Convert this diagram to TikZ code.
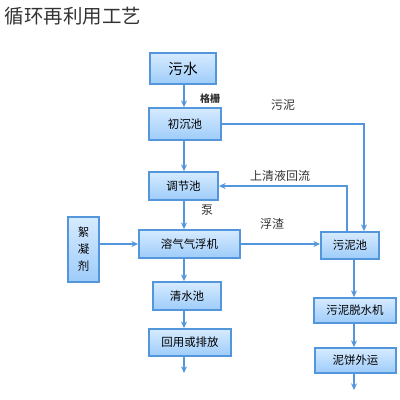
\documentclass[tikz,border=0pt]{standalone}
\usepackage{fontspec}
\setmainfont{Noto Sans CJK SC}
\usetikzlibrary{arrows.meta}
\definecolor{boxline}{RGB}{84,150,220}
\definecolor{boxtop}{RGB}{214,235,255}
\definecolor{boxbot}{RGB}{158,204,250}
\begin{document}
\begin{tikzpicture}[x=0.75pt,y=-0.75pt,
  box/.style={draw=boxline,line width=1.4pt,top color=boxtop,bottom color=boxbot,
    inner sep=0pt,font=\fontsize{8.6}{12.8}\selectfont,align=center},
  arr/.style={draw=boxline,line width=1.1pt,-{Stealth[length=5pt,width=4.5pt]}},
  lab/.style={font=\fontsize{9}{11}\selectfont,text=black!80}]
\useasboundingbox (0,0) rectangle (400,400);
% 标题
\node[anchor=west,font=\fontsize{14.6}{16}\selectfont,text=black!80] (title) at (0,16) {循环再利用工艺};
% 主流程
\node[box,minimum width=49.5pt,minimum height=23.25pt,font=\fontsize{11}{13}\selectfont] (water) at (183,68.5) {污水};
\node[box,minimum width=54pt,minimum height=24pt] (prim) at (185,124) {初沉池};
\node[box,minimum width=51.75pt,minimum height=21pt] (adjust) at (183.5,186) {调节池};
\node[box,minimum width=75.75pt,minimum height=21pt] (daf) at (189.5,244) {溶气气浮机};
\node[box,minimum width=23.25pt,minimum height=48.75pt] (floc) at (83.5,249.5) {絮\\凝\\剂};
\node[box,minimum width=51pt,minimum height=21pt] (clear) at (187,296) {清水池};
\node[box,minimum width=61.5pt,minimum height=20.25pt] (reuse) at (190,342.5) {回用或排放};
% 污泥流程
\node[box,minimum width=43.5pt,minimum height=20.25pt] (sludge) at (350,245.5) {污泥池};
\node[box,minimum width=61.5pt,minimum height=18.75pt] (dewater) at (355,310.5) {污泥脱水机};
\node[box,minimum width=60.75pt,minimum height=18.75pt] (cake) at (355.5,360.5) {泥饼外运};
% 辅助坐标
\coordinate (mainx) at (184,0);
\coordinate (sidex) at (354,0);
\coordinate (topx) at (364,0);
\coordinate (backx) at (347,0);
\coordinate (out1) at (184,373);
\coordinate (out2) at (354,390);
% 连线
\draw[arr] (water.south -| mainx) -- (prim.north -| mainx);
\draw[arr] (prim.south -| mainx) -- (adjust.north -| mainx);
\draw[arr] (adjust.south -| mainx) -- (daf.north -| mainx);
\draw[arr] (daf.south -| mainx) -- (clear.north -| mainx);
\draw[arr] (clear.south -| mainx) -- (reuse.north -| mainx);
\draw[arr] (reuse.south -| mainx) -- (out1);
\draw[arr] (floc.east |- daf.west) -- (daf.west);
\draw[arr] (daf.east) -- (daf.east -| sludge.west);
\draw[arr] (prim.east) -| (sludge.north -| topx);
\draw[arr] (sludge.north -| backx) |- (adjust.east);
\draw[arr] (sludge.south -| sidex) -- (dewater.north -| sidex);
\draw[arr] (dewater.south -| sidex) -- (cake.north -| sidex);
\draw[arr] (cake.south -| sidex) -- (out2);
% 标注
\node[lab,font=\fontsize{7.5}{9}\selectfont\bfseries] (grid) at (210,99) {格栅};
\node[lab] (mud) at (283,105) {污泥};
\node[lab] (back) at (280,176) {上清液回流};
\node[lab] (pump) at (207,210) {泵};
\node[lab] (scum) at (272,224) {浮渣};
\end{tikzpicture}
\end{document}
